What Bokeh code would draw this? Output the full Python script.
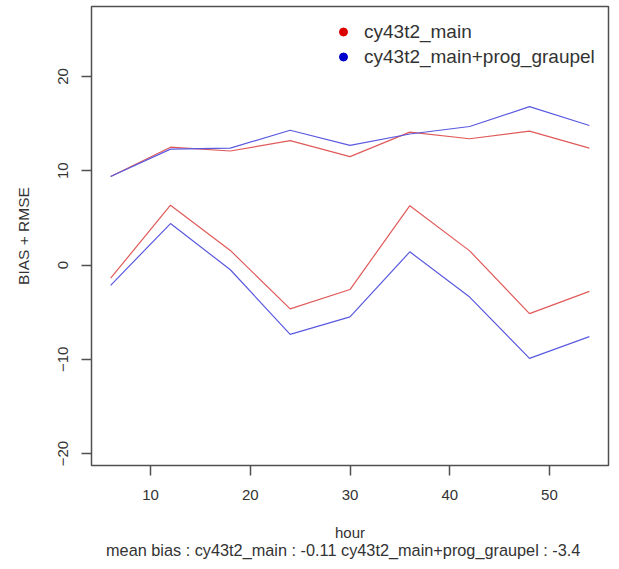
from bokeh.plotting import figure
from bokeh.models import Range1d, FixedTicker, Legend, LegendItem, Title
from bokeh.embed import file_html
from bokeh.resources import INLINE

hours = [6, 12, 18, 24, 30, 36, 42, 48, 54]
bias_main = [-1.4, 6.35, 1.55, -4.65, -2.6, 6.3, 1.5, -5.15, -2.8]
bias_graupel = [-2.15, 4.4, -0.5, -7.35, -5.5, 1.4, -3.4, -9.9, -7.6]
rmse_main = [9.4, 12.5, 12.1, 13.2, 11.5, 14.1, 13.4, 14.2, 12.4]
rmse_graupel = [9.4, 12.3, 12.4, 14.3, 12.7, 13.9, 14.7, 16.8, 14.8]
series_names = ["cy43t2_main", "cy43t2_main+prog_graupel"]
mean_bias_text = "mean bias : cy43t2_main :  -0.11  cy43t2_main+prog_graupel :  -3.4"
x_ticks = [10, 20, 30, 40, 50]
y_ticks = [-20, -10, 0, 10, 20]

FONT = "Liberation Sans"
TXT = "#333333"

p = figure(frame_width=517, frame_height=459, output_backend="svg",
           toolbar_location=None, x_range=Range1d(4.08, 55.92),
           y_range=Range1d(-21.27, 27.43),
           min_border_left=91, min_border_right=11, min_border_top=6,
           min_border_bottom=104)

p.xgrid.visible = False
p.ygrid.visible = False
p.outline_line_color = "#505050"
p.outline_line_width = 1.5
p.background_fill_color = "white"
p.border_fill_color = "white"

for ax in (p.xaxis[0], p.yaxis[0]):
    ax.axis_line_color = None
    ax.major_tick_in = 0
    ax.major_tick_out = 10
    ax.major_tick_line_color = "#505050"
    ax.major_tick_line_width = 1.5
    ax.minor_tick_line_color = None
    ax.major_label_text_font = FONT
    ax.major_label_text_font_size = "15px"
    ax.major_label_text_color = TXT
    ax.axis_label_text_font = FONT
    ax.axis_label_text_font_size = "15px"
    ax.axis_label_text_font_style = "normal"
    ax.axis_label_text_color = TXT

p.xaxis[0].ticker = FixedTicker(ticks=x_ticks)
p.yaxis[0].ticker = FixedTicker(ticks=y_ticks)
p.yaxis[0].major_label_orientation = "vertical"
p.xaxis[0].axis_label = "hour"
p.yaxis[0].axis_label = "BIAS + RMSE"
p.yaxis[0].axis_label_text_font_size = "15.5px"
p.xaxis[0].major_label_standoff = 14
p.xaxis[0].axis_label_standoff = 21
p.yaxis[0].major_label_standoff = 13
p.yaxis[0].axis_label_standoff = 24

red_line = "#e05a5a"
blue_line = "#5a5ae0"
p.line(hours, bias_main, line_color=red_line, line_width=1.2)
p.line(hours, rmse_main, line_color=red_line, line_width=1.2)
p.line(hours, bias_graupel, line_color=blue_line, line_width=1.2)
p.line(hours, rmse_graupel, line_color=blue_line, line_width=1.2)

nan = float("nan")
r1 = p.scatter(x=[nan], y=[nan], marker="circle", size=8, fill_color="#dd0000", line_color="#dd0000")
r2 = p.scatter(x=[nan], y=[nan], marker="circle", size=8, fill_color="#0000cc", line_color="#0000cc")

legend = Legend(items=[LegendItem(label=series_names[0], renderers=[r1]),
                       LegendItem(label=series_names[1], renderers=[r2])],
                location=(242, 396), padding=0, spacing=0, margin=0,
                glyph_width=20, glyph_height=25, label_height=25,
                label_standoff=11, label_text_font=FONT,
                label_text_font_size="19px", label_text_color=TXT,
                border_line_color=None, background_fill_alpha=0)
p.add_layout(legend, "center")

t = Title(text=mean_bias_text, align="center", text_font=FONT,
          text_font_size="16.3px", text_font_style="normal", text_color=TXT,
          standoff=-9)
p.add_layout(t, "below")

open("out.html", "w").write(file_html(p, INLINE))
